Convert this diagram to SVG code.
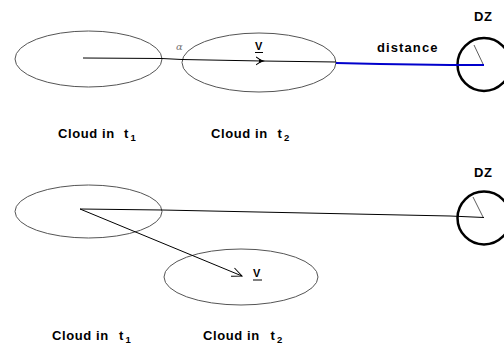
<svg xmlns="http://www.w3.org/2000/svg" width="504" height="346" viewBox="0 0 504 346">
<style>
.cloud{fill:none;stroke:#555;stroke-width:1}
.dz{fill:none;stroke:#000;stroke-width:2.5}
.rad{stroke:#333;stroke-width:0.8}
.ln{stroke:#000;stroke-width:1;fill:none}
.lbl{font-family:"Liberation Sans",Arial,sans-serif;font-weight:bold;font-size:13px;letter-spacing:0.6px;fill:#000}
.sub{font-size:9.5px}
.v{font-family:"Liberation Sans",Arial,sans-serif;font-weight:bold;font-size:11px;fill:#000}
</style>
<defs>
<marker id="open" viewBox="0 0 12 10" refX="11" refY="5" markerWidth="12" markerHeight="10" markerUnits="userSpaceOnUse" orient="auto">
<path d="M1,0.5 L11,5 L1,9.5" fill="none" stroke="#000" stroke-width="1"/>
</marker>
<marker id="filled" viewBox="0 0 12 10" refX="6" refY="5" markerWidth="12" markerHeight="10" markerUnits="userSpaceOnUse" orient="auto">
<path d="M0,1 L6,5 L0,9" fill="none" stroke="#000" stroke-width="1"/>
<path d="M3,3 L9,5 L3,7 Z" fill="#000"/>
</marker>
</defs>
<rect width="504" height="346" fill="#fff"/>

<g id="cloud-t1-top">
<ellipse class="cloud" cx="88.5" cy="59" rx="73.5" ry="28"/>
<text class="lbl" x="58" y="137.5">Cloud in<tspan x="124">t</tspan><tspan class="sub" x="130.5" dy="3">1</tspan></text>
</g>
<g id="cloud-t2-top">
<ellipse class="cloud" cx="259" cy="62.5" rx="77" ry="29.5"/>
<text class="lbl" x="211" y="137.5">Cloud in<tspan x="277.5">t</tspan><tspan class="sub" x="284" dy="3">2</tspan></text>
<text class="v" x="255" y="50">V</text>
<line x1="255" y1="52.5" x2="263" y2="52.5" stroke="#000" stroke-width="1"/>
<text x="176" y="50" font-family="'DejaVu Serif',serif" font-style="italic" font-size="10" fill="#777">α</text>
</g>
<g id="dz-top">
<circle class="dz" cx="484" cy="64.5" r="26.5"/>
<line class="rad" x1="483" y1="64" x2="474" y2="45"/>
<text class="lbl" x="474" y="21">DZ</text>
<text class="lbl" x="377" y="52" style="letter-spacing:1.1px">distance</text>
</g>

<g id="cloud-t1-bottom">
<ellipse class="cloud" cx="88.5" cy="211.5" rx="73.5" ry="26.5"/>
<text class="lbl" x="52" y="340">Cloud in<tspan x="119">t</tspan><tspan class="sub" x="125.5" dy="3">1</tspan></text>
</g>
<g id="cloud-t2-bottom">
<ellipse class="cloud" cx="241" cy="277" rx="77" ry="28"/>
<text class="lbl" x="203" y="340">Cloud in<tspan x="270.5">t</tspan><tspan class="sub" x="277" dy="3">2</tspan></text>
<text class="v" x="253" y="277">V</text>
<line x1="253" y1="280" x2="262" y2="280" stroke="#000" stroke-width="1"/>
</g>
<g id="dz-bottom">
<circle class="dz" cx="484" cy="218" r="26.5"/>
<line class="rad" x1="483" y1="217" x2="473" y2="197"/>
<text class="lbl" x="474" y="177">DZ</text>
</g>

<g id="connectors">
<polyline class="ln" points="83,58 162,58.5 182,59.5 262,61" marker-end="url(#filled)"/>
<line class="ln" x1="262" y1="61" x2="336" y2="62"/>
<polyline points="336,63 380,64 450,65 484,65" fill="none" stroke="#0000cc" stroke-width="2"/>
<polyline class="ln" points="80,209 162,210 450,216 484,217.5"/>
<line class="ln" x1="80" y1="209" x2="242" y2="276" marker-end="url(#open)"/>
</g>
</svg>
